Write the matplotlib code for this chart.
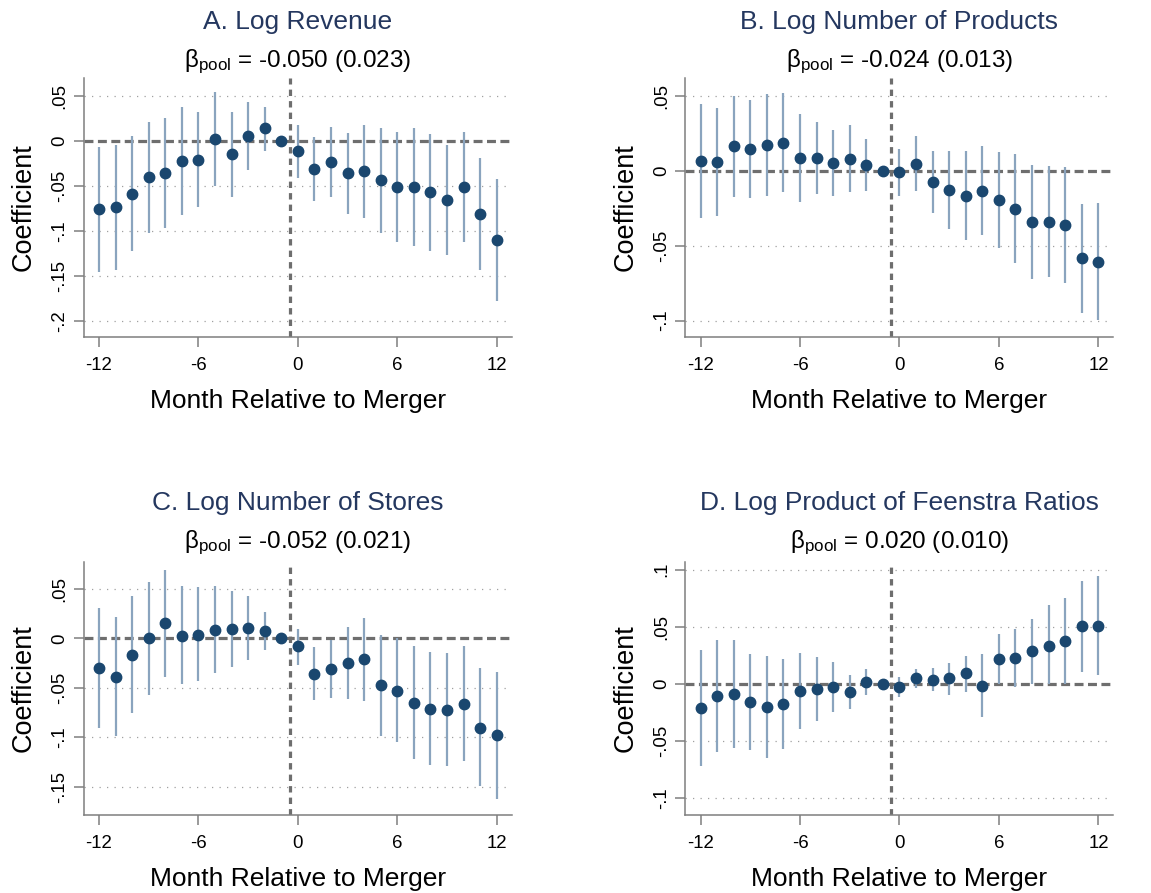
import numpy as np
import matplotlib
matplotlib.use("Agg")
import matplotlib.pyplot as plt

plt.rcParams['font.family'] = ['Liberation Sans', 'DejaVu Sans']
plt.rcParams['mathtext.fontset'] = 'custom'
plt.rcParams['mathtext.rm'] = 'Liberation Sans'
plt.rcParams['mathtext.it'] = 'Liberation Sans:italic'

months = [-12, -11, -10, -9, -8, -7, -6, -5, -4, -3, -2, -1,
          0, 1, 2, 3, 4, 5, 6, 7, 8, 9, 10, 11, 12]

# A. Log Revenue
rev_coef = [-0.076, -0.074, -0.059, -0.040, -0.036, -0.023, -0.021, 0.002, -0.015, 0.005, 0.014, 0.0,
            -0.011, -0.031, -0.024, -0.036, -0.034, -0.044, -0.051, -0.051, -0.057, -0.066, -0.051, -0.081, -0.110]
rev_hi = [-0.007, -0.005, 0.005, 0.021, 0.025, 0.037, 0.032, 0.054, 0.032, 0.043, 0.038, np.nan,
          0.018, 0.004, 0.015, 0.009, 0.017, 0.014, 0.010, 0.014, 0.007, -0.005, 0.010, -0.019, -0.042]
rev_lo = [-0.146, -0.144, -0.123, -0.102, -0.097, -0.082, -0.074, -0.050, -0.062, -0.032, -0.011, np.nan,
          -0.041, -0.067, -0.063, -0.081, -0.086, -0.102, -0.113, -0.117, -0.122, -0.127, -0.112, -0.144, -0.178]

# B. Log Number of Products
prod_coef = [0.0067, 0.0060, 0.0164, 0.0147, 0.0173, 0.0189, 0.0087, 0.0087, 0.0056, 0.0082, 0.0042, 0.0,
             -0.0007, 0.0049, -0.0071, -0.0124, -0.0164, -0.0133, -0.0191, -0.0251, -0.0340, -0.0340, -0.0362, -0.0584, -0.0607]
prod_hi = [0.0449, 0.0418, 0.0504, 0.0471, 0.0511, 0.0522, 0.0382, 0.0324, 0.0273, 0.0307, 0.0216, np.nan,
           0.0149, 0.0233, 0.0131, 0.0136, 0.0133, 0.0164, 0.0127, 0.0111, 0.0042, 0.0031, 0.0029, -0.0222, -0.0216]
prod_lo = [-0.0313, -0.0300, -0.0171, -0.0180, -0.0167, -0.0142, -0.0207, -0.0156, -0.0169, -0.0142, -0.0133, np.nan,
           -0.0164, -0.0136, -0.0280, -0.0387, -0.0462, -0.0429, -0.0513, -0.0616, -0.0722, -0.0707, -0.0751, -0.0947, -0.0998]

# C. Log Number of Stores
store_coef = [-0.030, -0.039, -0.017, 0.000, 0.016, 0.003, 0.004, 0.009, 0.0095, 0.0105, 0.008, 0.0,
              -0.008, -0.036, -0.031, -0.025, -0.021, -0.047, -0.053, -0.065, -0.071, -0.072, -0.066, -0.090, -0.098]
store_hi = [0.031, 0.022, 0.043, 0.057, 0.069, 0.053, 0.052, 0.053, 0.048, 0.043, 0.027, np.nan,
            0.010, -0.009, -0.002, 0.012, 0.021, 0.004, 0.000, -0.008, -0.014, -0.015, -0.008, -0.030, -0.034]
store_lo = [-0.090, -0.099, -0.075, -0.057, -0.039, -0.046, -0.043, -0.035, -0.029, -0.022, -0.012, np.nan,
            -0.027, -0.062, -0.060, -0.061, -0.063, -0.099, -0.105, -0.122, -0.128, -0.129, -0.124, -0.149, -0.162]

# D. Log Product of Feenstra Ratios
feen_coef = [-0.021, -0.0105, -0.0088, -0.0158, -0.0199, -0.0172, -0.0064, -0.0041, -0.0026, -0.0073, 0.0018, 0.0,
             -0.0026, 0.0047, 0.0038, 0.0047, 0.0093, -0.0015, 0.0216, 0.0228, 0.0286, 0.0333, 0.0371, 0.0502, 0.0508]
feen_hi = [0.0295, 0.0388, 0.0382, 0.0260, 0.0245, 0.0219, 0.0266, 0.0234, 0.0193, 0.0076, 0.0134, np.nan,
           0.0058, 0.0126, 0.0137, 0.0181, 0.0248, 0.0260, 0.0432, 0.0479, 0.0566, 0.0686, 0.0747, 0.0902, 0.0946]
feen_lo = [-0.0718, -0.0596, -0.0564, -0.0578, -0.0645, -0.0566, -0.0394, -0.0321, -0.0248, -0.0222, -0.0096, np.nan,
           -0.0114, -0.0035, -0.0064, -0.0096, -0.0070, -0.0289, -0.0003, -0.0026, 0.0003, -0.0003, 0.0, 0.0102, 0.0076]

titles = ['A. Log Revenue', 'B. Log Number of Products',
          'C. Log Number of Stores', 'D. Log Product of Feenstra Ratios']
pooled = ['-0.050 (0.023)', '-0.024 (0.013)', '-0.052 (0.021)', '0.020 (0.010)']
yticks = [[0.05, 0, -0.05, -0.1, -0.15, -0.2],
          [0.05, 0, -0.05, -0.1],
          [0.05, 0, -0.05, -0.1, -0.15],
          [0.1, 0.05, 0, -0.05, -0.1]]
ylims = [(-0.218, 0.0697), (-0.1109, 0.0621), (-0.1784, 0.0773), (-0.1147, 0.1066)]
series = [(rev_coef, rev_lo, rev_hi), (prod_coef, prod_lo, prod_hi),
          (store_coef, store_lo, store_hi), (feen_coef, feen_lo, feen_hi)]

W, H = 1151, 893
fig = plt.figure(figsize=(W / 100, H / 100), dpi=100)

# axes boxes in pixels: left, top, right, bottom
boxes = [(83.7, 78, 511.7, 337), (685.3, 78, 1113.3, 337),
         (83.7, 562, 511.7, 815), (685.3, 562, 1113.3, 815)]
title_y = [(22, 62), (22, 62), (503, 542.5), (503, 542.5)]

navy = '#1a476f'
ci_col = '#8aa4be'
gray = '#7f7f7f'


def fmt(v):
    if v == 0:
        return '0'
    s = f'{v:g}'
    return s.replace('0.', '.')


for i in range(4):
    l, t, r, b = boxes[i]
    ax = fig.add_axes([l / W, 1 - b / H, (r - l) / W, (b - t) / H])
    coef, lo, hi = series[i]
    x = np.array(months)

    for yt in yticks[i]:
        if yt != 0:
            ax.axhline(yt, color='#a0a0a0', lw=0.9, ls=(0, (1, 5)), zorder=0)
    ax.axhline(0, color='#6e6e6e', lw=2.3, ls=(0, (2.8, 1.4)), zorder=1)
    ax.axvline(-0.5, color='#6e6e6e', lw=2.3, ls=(0, (2.0, 1.6)), zorder=1)
    ax.vlines(x, lo, hi, color=ci_col, lw=1.6, zorder=2)
    ax.plot(x, coef, 'o', color=navy, ms=7.5, zorder=3)

    ax.set_xlim(-12.92, 12.9)
    ax.set_ylim(*ylims[i])
    ax.set_xticks([-12, -6, 0, 6, 12])
    ax.set_xticklabels(['-12', '-6', '0', '6', '12'])
    ax.set_yticks(yticks[i])
    ax.set_yticklabels([fmt(v) for v in yticks[i]], rotation=90, va='center')

    for s in ['top', 'right']:
        ax.spines[s].set_visible(False)
    for s in ['left', 'bottom']:
        ax.spines[s].set_color(gray)
        ax.spines[s].set_linewidth(1.1)
    ax.tick_params(axis='both', colors=gray, length=7, width=1.1, labelsize=13.4,
                   labelcolor='black')
    ax.tick_params(axis='x', pad=7.5)
    ax.tick_params(axis='y', pad=4)

    ax.set_xlabel('Month Relative to Merger', fontsize=19, labelpad=10.5)
    ax.set_ylabel('Coefficient', fontsize=19.5, labelpad=10.5)

    cx = (l + r) / 2 / W
    fig.text(cx, 1 - title_y[i][0] / H, titles[i], fontsize=19, color='#24375f',
             ha='center', va='center')
    fig.text(cx, 1 - title_y[i][1] / H, r'$\mathrm{\beta_{pool}}$ = ' + pooled[i],
             fontsize=17.5, color='black', ha='center', va='center')

fig.savefig('out.png', dpi=100, facecolor='white')
